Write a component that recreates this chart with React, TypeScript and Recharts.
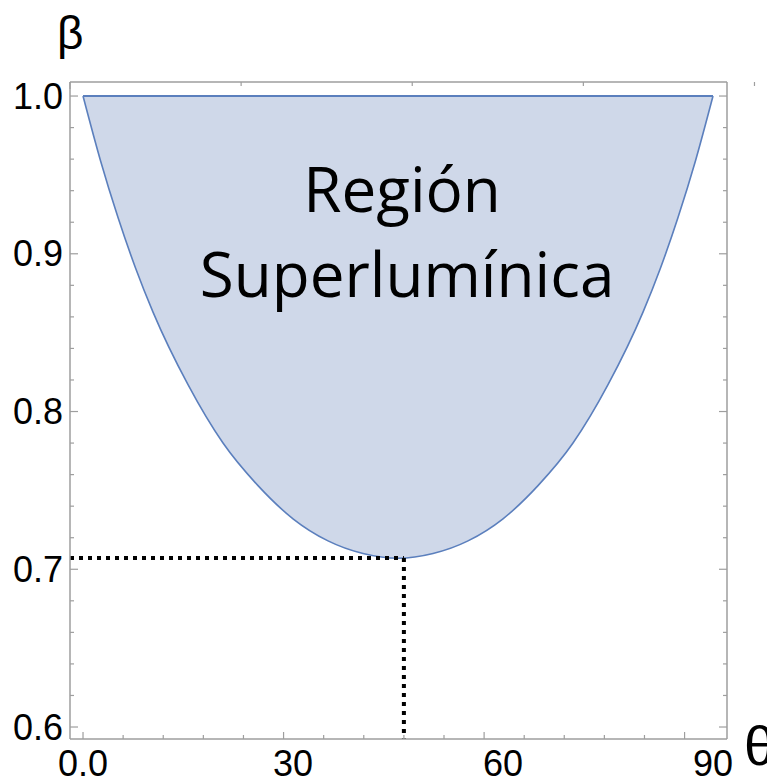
import React from "react";
import { ComposedChart, Area, XAxis, YAxis, ReferenceLine } from "recharts";

// theta in degrees, lower edge of the superluminal region (beta), upper edge is beta = 1
const thetaDeg = [0, 2.5, 5, 7.5, 10, 15, 20, 25, 30, 35, 40, 45, 50, 55, 60, 65, 70, 75, 80, 82.5, 85, 87.5, 90];
const betaMin = [1.0, 0.959, 0.923, 0.891, 0.863, 0.817, 0.780, 0.753, 0.732, 0.718, 0.710, 0.707, 0.710, 0.718, 0.732, 0.753, 0.780, 0.817, 0.863, 0.891, 0.923, 0.959, 1.0];
const betaLuz = 1.0;

// frame tick marks on the x axis (original plot ticks every 0.1 rad, shown here in degrees)
const xTickMarks = [0, 5.73, 11.46, 17.19, 22.92, 28.65, 34.38, 40.11, 45.84, 51.57, 57.3, 63.03, 68.75, 74.48, 80.21, 85.94];
const xMajorMarks = [0, 28.65, 57.3, 85.94];
const xLabelValues = [0, 30, 60, 90];
const xLabelText = ["0.0", "30", "60", "90"];

const yTickMarks = [0.6, 0.62, 0.64, 0.66, 0.68, 0.7, 0.72, 0.74, 0.76, 0.78, 0.8, 0.82, 0.84, 0.86, 0.88, 0.9, 0.92, 0.94, 0.96, 0.98, 1.0];
const yLabelValues = [0.6, 0.7, 0.8, 0.9, 1.0];
const yLabelText = ["0.6", "0.7", "0.8", "0.9", "1.0"];

// dotted guide corner
const cornerTheta = 45.84;
const cornerBeta = 0.7071;

const xDomain = [-1.86, 92];
const yDomain = [0.5924, 1.0089];

const frameColor = "#9e9e9e";
const curveColor = "#5b7fbd";
const labelFont = "'Liberation Sans', Arial, sans-serif";

const data = thetaDeg.map((t, i) => ({ theta: t, range: [betaMin[i], betaLuz] }));
const xAllTicks = Array.from(new Set([...xTickMarks, ...xLabelValues])).sort((a, b) => a - b);

const BottomTick = (props: any) => {
    const { x, y, payload } = props;
    const v = payload.value;
    const li = xLabelValues.indexOf(v);
    return (
        <g>
            {xTickMarks.includes(v) && (
                <line x1={x} x2={x} y1={y} y2={y - (xMajorMarks.includes(v) ? 7 : 4)} stroke={frameColor} strokeWidth={1.2} />
            )}
            {li >= 0 && (
                <text x={x} y={y + 37} textAnchor="middle" fontSize={36} fontFamily={labelFont} fill="#000">
                    {xLabelText[li]}
                </text>
            )}
        </g>
    );
};

const TopTick = (props: any) => {
    const { x, y, payload } = props;
    const v = payload.value;
    return <line x1={x} x2={x} y1={y} y2={y + (xMajorMarks.includes(v) ? 7 : 4)} stroke={frameColor} strokeWidth={1.2} />;
};

const isMajorY = (v: number) => yLabelValues.some(m => Math.abs(m - v) < 1e-6);

const LeftTick = (props: any) => {
    const { x, y, payload } = props;
    const v = payload.value;
    const li = yLabelValues.findIndex(m => Math.abs(m - v) < 1e-6);
    return (
        <g>
            <line x1={x} x2={x + (isMajorY(v) ? 8 : 4)} y1={y} y2={y} stroke={frameColor} strokeWidth={1.2} />
            {li >= 0 && (
                <text x={x - 7} y={y + 12.5} textAnchor="end" fontSize={36} fontFamily={labelFont} fill="#000">
                    {yLabelText[li]}
                </text>
            )}
        </g>
    );
};

const RightTick = (props: any) => {
    const { x, y, payload } = props;
    const v = payload.value;
    return <line x1={x} x2={x - (isMajorY(v) ? 8 : 4)} y1={y} y2={y} stroke={frameColor} strokeWidth={1.2} />;
};

export default function App() {
    return (
        <div style={{ position: "absolute", left: 0, top: 0, width: 767, height: 783, background: "#fff" }}>
            <ComposedChart
                width={767}
                height={783}
                data={data}
                margin={{ top: 81, right: 39, bottom: 43, left: 69 }}
            >
                <XAxis
                    xAxisId="b"
                    dataKey="theta"
                    type="number"
                    domain={xDomain}
                    allowDataOverflow
                    ticks={xAllTicks}
                    interval={0}
                    tick={<BottomTick />}
                    tickLine={false}
                    tickSize={0}
                    tickMargin={0}
                    height={1}
                    axisLine={{ stroke: frameColor, strokeWidth: 1.5 }}
                />
                <XAxis
                    xAxisId="t"
                    orientation="top"
                    type="number"
                    domain={xDomain}
                    allowDataOverflow
                    ticks={xTickMarks}
                    interval={0}
                    tick={<TopTick />}
                    tickLine={false}
                    tickSize={0}
                    tickMargin={0}
                    height={1}
                    axisLine={{ stroke: frameColor, strokeWidth: 1.5 }}
                />
                <YAxis
                    yAxisId="l"
                    type="number"
                    domain={yDomain}
                    allowDataOverflow
                    ticks={yTickMarks}
                    interval={0}
                    tick={<LeftTick />}
                    tickLine={false}
                    tickSize={0}
                    tickMargin={0}
                    width={1}
                    axisLine={{ stroke: frameColor, strokeWidth: 1.5 }}
                />
                <YAxis
                    yAxisId="r"
                    orientation="right"
                    type="number"
                    domain={yDomain}
                    allowDataOverflow
                    ticks={yTickMarks}
                    interval={0}
                    tick={<RightTick />}
                    tickLine={false}
                    tickSize={0}
                    tickMargin={0}
                    width={1}
                    axisLine={{ stroke: frameColor, strokeWidth: 1.5 }}
                />
                <Area
                    xAxisId="b"
                    yAxisId="l"
                    type="monotone"
                    dataKey="range"
                    fill="#cfd8e9"
                    fillOpacity={1}
                    stroke={curveColor}
                    strokeWidth={1.6}
                    isAnimationActive={false}
                    dot={false}
                    activeDot={false}
                />
                <ReferenceLine
                    xAxisId="b"
                    yAxisId="l"
                    segment={[{ x: thetaDeg[0], y: betaLuz }, { x: thetaDeg[thetaDeg.length - 1], y: betaLuz }]}
                    stroke={curveColor}
                    strokeWidth={2}
                />
                <ReferenceLine
                    xAxisId="b"
                    yAxisId="l"
                    segment={[{ x: xDomain[0], y: cornerBeta }, { x: cornerTheta, y: cornerBeta }]}
                    stroke="#000"
                    strokeWidth={4}
                    strokeDasharray="4 5"
                />
                <ReferenceLine
                    xAxisId="b"
                    yAxisId="l"
                    segment={[{ x: cornerTheta, y: cornerBeta }, { x: cornerTheta, y: yDomain[0] }]}
                    stroke="#000"
                    strokeWidth={4}
                    strokeDasharray="4 5"
                />
            </ComposedChart>
            <svg width={767} height={783} style={{ position: "absolute", left: 0, top: 0, pointerEvents: "none" }}>
                <text x={402} y={212} textAnchor="middle" fontSize={62} fontFamily="'Open Sans', sans-serif" fill="#000">
                    Región
                </text>
                <text x={407} y={297} textAnchor="middle" fontSize={62} fontFamily="'Open Sans', sans-serif" fill="#000">
                    Superlumínica
                </text>
                <text x={57} y={49} fontSize={46} fontFamily={labelFont} fill="#000">β</text>
                <text x={744} y={765} fontSize={56} fontFamily={labelFont} fill="#000">θ</text>
            </svg>
        </div>
    );
}
